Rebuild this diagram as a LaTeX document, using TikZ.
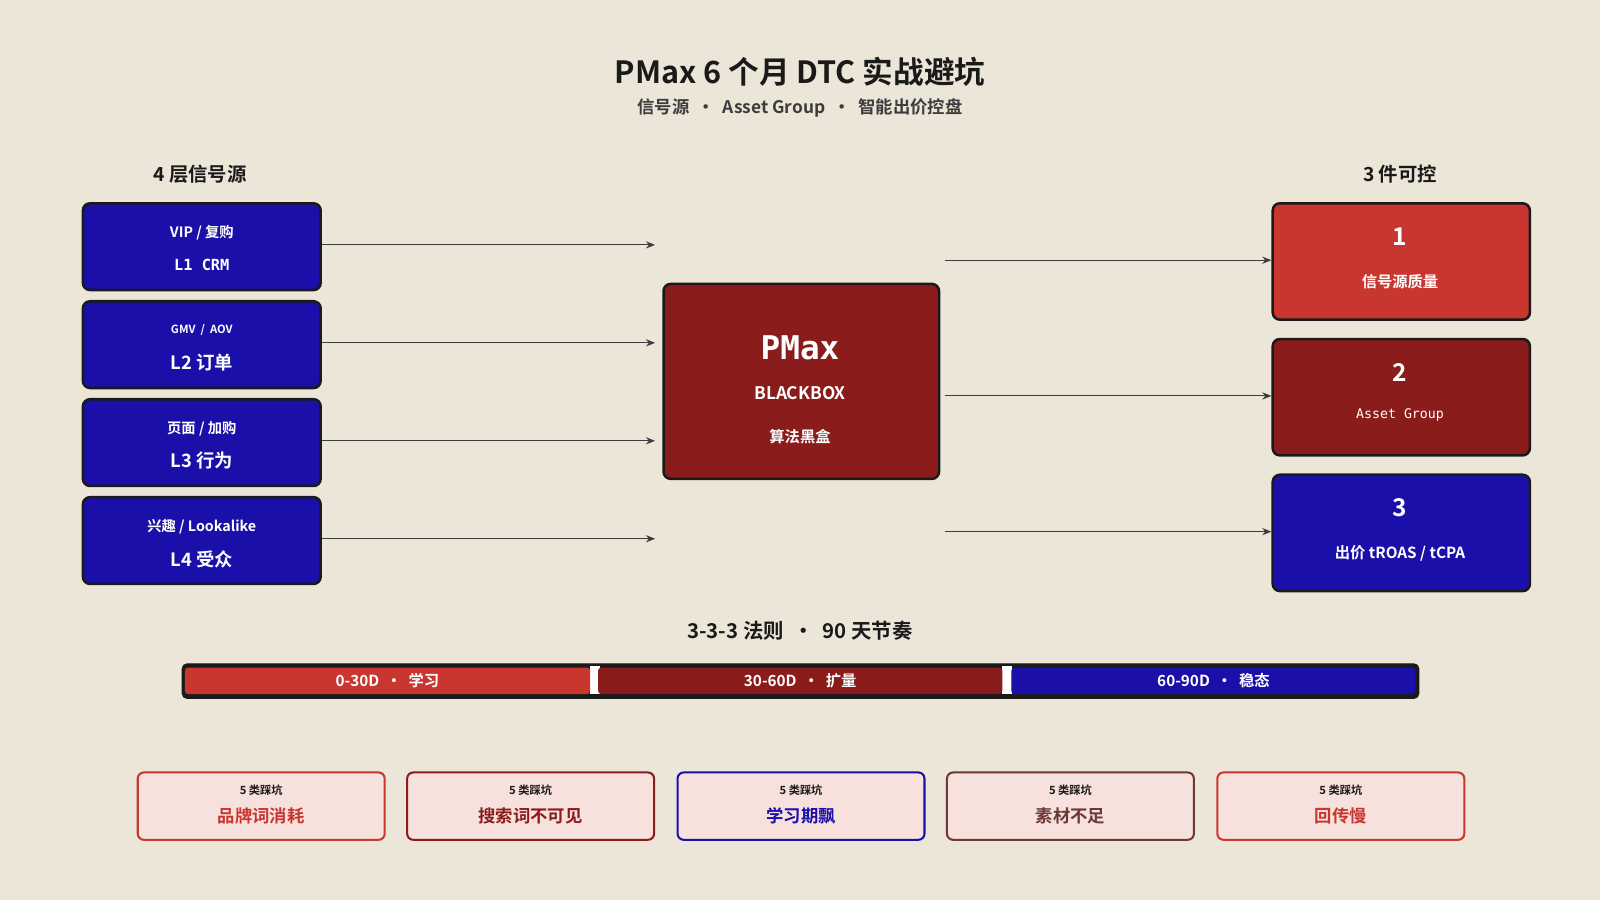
\documentclass[tikz,border=0pt]{standalone}
\usepackage{fontspec}
\setmainfont{Noto Sans CJK SC}[BoldFont={Noto Sans CJK SC Bold}]
\newfontfamily\monof{DejaVu Sans Mono}
\usetikzlibrary{arrows.meta}
\definecolor{bg}{HTML}{EBE6D8}
\definecolor{cblue}{HTML}{1A0FA8}
\definecolor{cred}{HTML}{C8362F}
\definecolor{cdark}{HTML}{8B1C1C}
\definecolor{cpink}{HTML}{F7E1DC}
\definecolor{cbrown}{HTML}{6B3A35}
\definecolor{ink}{HTML}{1A1A1A}
\tikzset{
 bx/.style={draw=ink,line width=2.5pt,rounded corners=7pt,text=white,align=center},
 arr/.style={draw=ink!85,line width=1pt,-{Stealth[length=9pt,width=7pt]}},
 pit/.style={fill=cpink,line width=2pt,rounded corners=6pt,align=center},
}
\newcommand{\fs}[1]{\fontsize{#1}{#1}\selectfont}
\begin{document}
\begin{tikzpicture}[x=1pt,y=-1pt]
\fill[bg] (0,0) rectangle (1568,882);
\useasboundingbox (0,0) rectangle (1568,882);
\node[text=ink,font=\fs{30}\bfseries] (title) at (784,70) {PMax 6 个月 DTC 实战避坑};
\node[text=ink!85,font=\fs{17}\bfseries] (sub) at (784,106) {信号源 \ • \ Asset Group \ • \ 智能出价控盘};
\node[text=ink,font=\fs{19}\bfseries] (lh) at (196,171) {4 层信号源};
\node[text=ink,font=\fs{19}\bfseries] (rh) at (1372,171) {3 件可控};
% left boxes
\foreach \i/\y/\a/\b/\fa/\fb in {1/198/{\monof L1 CRM}/{VIP / 复购}/15/14,
  2/294/{L2 订单}/{GMV \ / \ AOV}/18/11,
  3/390/{L3 行为}/{页面 / 加购}/18/14,
  4/486/{L4 受众}/{兴趣 / Lookalike}/18/14}{
  \node[bx,fill=cblue,minimum width=233pt,minimum height=85pt,anchor=north west] (L\i) at (80,\y) {};
  \node[text=white,font=\fs{\fa}\bfseries] (La\i) at ([yshift=-18pt]L\i.center) {\a};
  \node[text=white,font=\fs{\fb}\bfseries] (Lb\i) at ([yshift=14pt]L\i.center) {\b};
}
\node[bx,fill=cdark,minimum width=270pt,minimum height=191pt,anchor=north west] (pm) at (649,277) {};
\node[text=white,font=\fs{32}\monof\bfseries] (pm1) at (784,341) {PMax};
\node[text=white,font=\fs{17}\bfseries] (pm2) at (784,385) {BLACKBOX};
\node[text=white,font=\fs{15}\bfseries] (pm3) at (784,428) {算法黑盒};
\foreach \i/\y in {1/240,2/336,3/432,4/528}{
  \coordinate (e\i) at (642,\y);
  \draw[arr] (L\i.east|-e\i) -- (e\i);
}
% right boxes
\node[bx,fill=cred,minimum width=252pt,minimum height=114pt,anchor=north west] (R1) at (1246,198) {};
\node[bx,fill=cdark,minimum width=252pt,minimum height=114pt,anchor=north west] (R2) at (1246,331) {};
\node[bx,fill=cblue,minimum width=252pt,minimum height=114pt,anchor=north west] (R3) at (1246,464) {};
\node[text=white,font=\fs{24}\bfseries] at (1372,232) {1};
\node[text=white,font=\fs{15}\bfseries] at (1372,276) {信号源质量};
\node[text=white,font=\fs{24}\bfseries] at (1372,365) {2};
\node[text=white,font=\fs{13}\monof] at (1372,407) {Asset Group};
\node[text=white,font=\fs{24}\bfseries] at (1372,498) {3};
\node[text=white,font=\fs{15}\bfseries] at (1372,542) {出价 tROAS / tCPA};
\foreach \i/\y in {1/255,2/388,3/521}{
  \coordinate (s\i) at (926,\y);
  \draw[arr] (s\i) -- (R\i.west|-s\i);
}
% timeline
\node[text=ink,font=\fs{20}\bfseries] (th) at (784,618) {3-3-3 法则 \ • \ 90 天节奏};
\node[draw=ink,fill=ink,line width=1pt,rounded corners=5pt,minimum width=1212pt,minimum height=34pt,anchor=north west] (bar) at (178,650) {};
\fill[white] (578,653) rectangle (588,680);
\fill[white] (982,653) rectangle (992,680);
\node[fill=cred,rounded corners=3pt,minimum width=397pt,minimum height=26pt,anchor=north west,inner sep=0,text=white,font=\fs{15}\bfseries] (t1) at (181,654) {0-30D \ • \ 学习};
\node[fill=cdark,rounded corners=3pt,minimum width=396pt,minimum height=26pt,anchor=north west,inner sep=0,text=white,font=\fs{15}\bfseries] (t2) at (586,654) {30-60D \ • \ 扩量};
\node[fill=cblue,rounded corners=3pt,minimum width=396pt,minimum height=26pt,anchor=north west,inner sep=0,text=white,font=\fs{15}\bfseries] (t3) at (991,654) {60-90D \ • \ 稳态};
% pitfalls
\foreach \i/\x/\c/\t in {1/134/cred/品牌词消耗,2/398/cdark/搜索词不可见,3/663/cblue/学习期飘,4/927/cbrown/素材不足,5/1192/cred/回传慢}{
  \node[pit,draw=\c,minimum width=242pt,minimum height=66pt,anchor=north west] (P\i) at (\x,756) {};
  \node[text=\c,font=\fs{17}\bfseries] (Pt\i) at ([yshift=-10pt]P\i.center) {\t};
  \node[text=ink,font=\fs{11}\bfseries] (Ps\i) at ([yshift=16pt]P\i.center) {5 类踩坑};
}
\end{tikzpicture}
\end{document}
